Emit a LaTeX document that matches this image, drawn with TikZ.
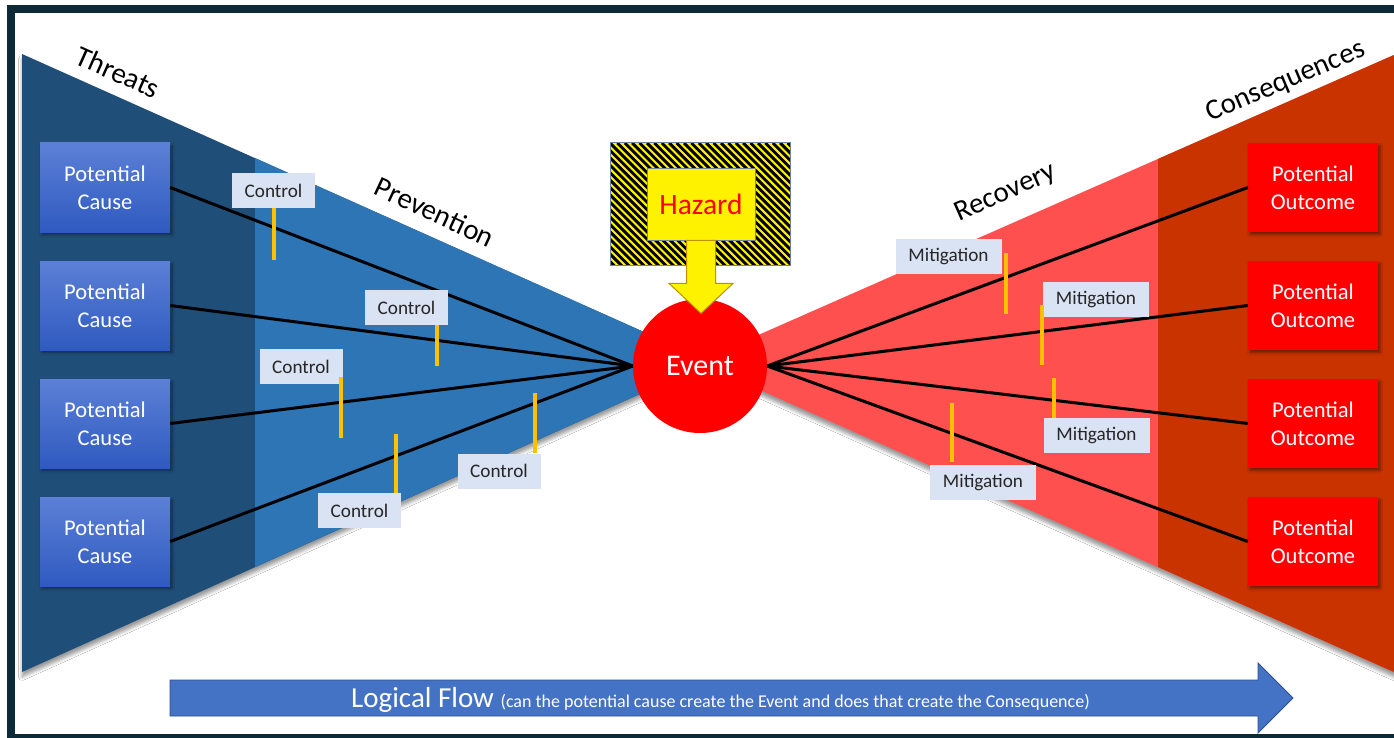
\documentclass[tikz,border=0pt]{standalone}
\usepackage{fontspec}
\setmainfont{Carlito}
\usetikzlibrary{calc,shadows.blur}

\definecolor{framecol}{RGB}{12,42,56}
\definecolor{threatblue}{RGB}{31,78,121}
\definecolor{prevblue}{RGB}{46,117,182}
\definecolor{recovred}{RGB}{255,80,80}
\definecolor{conseqred}{RGB}{200,51,0}
\definecolor{causetop}{RGB}{92,128,214}
\definecolor{causebot}{RGB}{47,90,192}
\definecolor{labelfill}{RGB}{218,227,243}
\definecolor{barcol}{RGB}{255,192,0}
\definecolor{flowfill}{RGB}{68,114,196}
\definecolor{flowline}{RGB}{47,82,143}
\definecolor{hazline}{RGB}{110,130,160}
\definecolor{arrowline}{RGB}{191,144,0}
\definecolor{textdark}{RGB}{38,38,38}

\newcommand{\fsz}[2]{\fontsize{#1}{#2}\selectfont}

\begin{document}
\begin{tikzpicture}[x=1pt,y=-1pt,
  wedgeshadow/.style={blur shadow={shadow xshift=0pt,shadow yshift=-5pt,shadow blur radius=3.5pt,shadow opacity=40}},
  boxshadow/.style={blur shadow={shadow xshift=2pt,shadow yshift=-2.5pt,shadow blur radius=2.5pt,shadow opacity=45}},
  causebox/.style={rectangle,minimum width=130pt,minimum height=89pt,inner sep=0pt,
    top color=causetop,bottom color=causebot,text=white,align=center,font=\fsz{22.5}{28},boxshadow},
  outcomebox/.style={rectangle,minimum width=130pt,minimum height=89pt,inner sep=0pt,
    fill=red,text=white,align=center,font=\fsz{22.5}{28},boxshadow},
  ctlbox/.style={rectangle,fill=labelfill,minimum width=83pt,minimum height=35pt,inner sep=0pt,
    text=textdark,font=\fsz{19.2}{19.2}},
  mitbox/.style={ctlbox,minimum width=106pt},
  link/.style={line width=3pt,black},
  bar/.style={line width=4pt,barcol},
  zonelabel/.style={font=\fsz{29}{29},text=black,inner sep=0pt},
]
\useasboundingbox (0,0) rectangle (1394,738);

% outer frame
\fill[framecol] (7,5) rectangle (1394,738);
\fill[white] (15,13) rectangle (1394,734);

\begin{scope}
\clip (0,0) rectangle (1394,738);
% threats / prevention wedge
\path[fill=threatblue,wedgeshadow] (22,54) -- (711,362) -- (22,672) -- cycle;
\fill[prevblue] (255,158) -- (711,362) -- (255,567) -- cycle;
% recovery / consequences wedge
\path[fill=recovred,wedgeshadow] (697,362) -- (1420,43.5) -- (1420,683.6) -- cycle;
\fill[conseqred] (1158,159) -- (1420,43.5) -- (1420,683.6) -- (1158,567) -- cycle;
\end{scope}

% zone titles
\node[zonelabel,rotate=-24] (thr) at (118,72) {Threats};
\node[zonelabel,rotate=-25] (prv) at (435,212) {Prevention};
\node[zonelabel,rotate=24] (rcv) at (1006,193) {Recovery};
\node[zonelabel,rotate=23] (csq) at (1286,82) {Consequences};

% central event
\node[circle,fill=red,minimum size=134pt,inner sep=0pt,text=white,font=\fsz{30}{30}] (ev) at (700,366) {Event};

% causes and outcomes
\foreach \n/\y in {1/187.5,2/305.5,3/423.5,4/541.5}{
  \node[causebox] (p\n) at (105,\y) {Potential\\Cause};
  \node[outcomebox] (o\n) at (1313,\y) {Potential\\Outcome};
}

% threat and consequence paths
\foreach \n in {1,...,4}{
  \draw[link] (p\n.east) -- (ev.west);
  \draw[link] (ev.east) -- (o\n.west);
}

% controls (barriers on the prevention side)
\node[ctlbox] (c1) at (273.5,190.5) {Control};
\node[ctlbox] (c2) at (406.5,307.5) {Control};
\node[ctlbox] (c3) at (301,366.5) {Control};
\node[ctlbox] (c4) at (499,471) {Control};
\node[ctlbox] (c5) at (359.5,510.5) {Control};
\draw[bar] ([xshift=0.5pt]c1.south) -- ++(0,52);
\draw[bar] ([xshift=30.5pt]c2.south) -- ++(0,41);
\draw[bar] ([xshift=40pt,yshift=7pt]c3.south) -- ++(0,61);
\draw[bar] ([xshift=35.5pt]c4.north) -- ++(0,-60);
\draw[bar] ([xshift=36.5pt]c5.north) -- ++(0,-59);

% mitigations (barriers on the recovery side)
\node[mitbox] (m1) at (948.5,256.5) {Mitigation};
\node[mitbox] (m2) at (1096,299.5) {Mitigation};
\node[mitbox] (m3) at (1096.5,435.5) {Mitigation};
\node[mitbox] (m4) at (983,482.5) {Mitigation};
\draw[bar] ([xshift=4pt,yshift=3.5pt]m1.east) -- ++(0,61);
\draw[bar] ([xshift=-1pt,yshift=-5pt]m2.west) -- ++(0,60);
\draw[bar] ([xshift=-42.5pt]m3.north) -- ++(0,-40);
\draw[bar] ([xshift=-31pt,yshift=3pt]m4.north) -- ++(0,-59);

% hazard: striped frame with label box
\node[rectangle,minimum width=179pt,minimum height=122pt,inner sep=0pt,fill=yellow] (hzf) at (700.5,204) {};
\begin{scope}
\clip (hzf.south west) rectangle (hzf.north east);
\foreach \i in {-130,-122.6,...,800}{
  \draw[line width=2.9pt,black] (\i,143) -- ++(125,125);
}
\end{scope}
\draw[hazline,line width=0.8pt] (hzf.south west) rectangle (hzf.north east);
\node[rectangle,fill=yellow,draw=hazline,line width=0.8pt,minimum width=108pt,minimum height=72pt,
  inner sep=0pt,text=red,font=\fsz{29.5}{29.5}] (hz) at (701,204) {Hazard};
\filldraw[fill=yellow,draw=arrowline,line width=1pt,line join=miter]
  (hz.south) ++(-14.5,0) -- ++(0,43) -- ++(-17.5,0) -- ++(32,30) -- ++(32,-30) -- ++(-17.5,0) -- ++(0,-43) -- cycle;

% logical flow arrow
\filldraw[fill=flowfill,draw=flowline,line width=0.8pt]
  (170,680) -- (1258,680) -- (1258,663) -- (1293,698) -- (1258,733) -- (1258,716) -- (170,716) -- cycle;
\node[anchor=base west,text=white,inner sep=0pt] (flow) at (351,707)
  {\fsz{29}{29}Logical Flow \fsz{18}{18}(can the potential cause create the Event and does that create the Consequence)};
\end{tikzpicture}
\end{document}
